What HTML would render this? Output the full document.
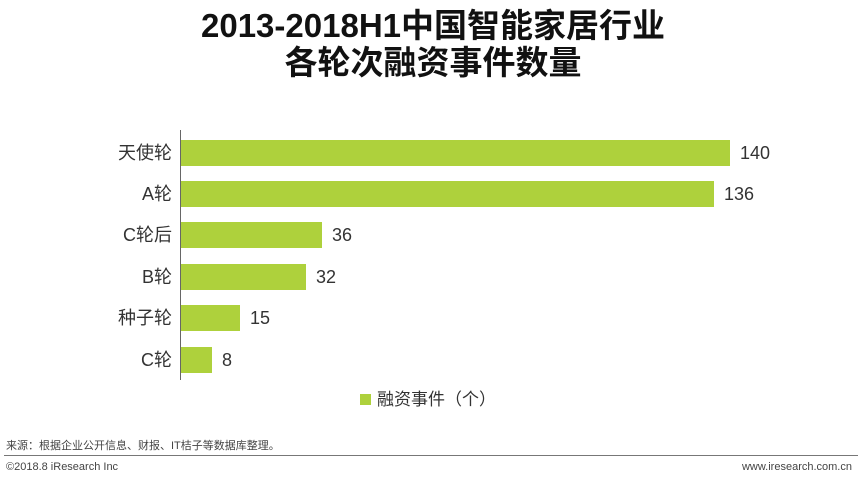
<!DOCTYPE html>
<html><head><meta charset="utf-8"><style>
body{margin:0;width:862px;height:479px;background:#fff;position:relative;overflow:hidden;font-family:"Liberation Sans","Noto Sans CJK SC",sans-serif;}
.t{position:absolute;left:0;width:866px;text-align:center;font-weight:bold;font-size:33px;color:#111;line-height:38px;}
.bar{position:absolute;left:181px;height:26px;background:#aed13c;}
.lab{position:absolute;right:690px;font-size:18px;color:#333;line-height:26px;text-align:right;white-space:nowrap;}
.val{position:absolute;font-size:18px;color:#333;line-height:26px;}
.s{position:absolute;font-size:11px;color:#444;}
</style></head><body>
<div class="t" style="top:7px">2013-2018H1中国智能家居行业</div>
<div class="t" style="top:44px">各轮次融资事件数量</div>
<div style="position:absolute;left:180px;top:130px;width:1px;height:250px;background:#666"></div>

<div class="lab" style="top:140px">天使轮</div><div class="bar" style="top:140px;width:549px"></div><div class="val" style="left:740px;top:140px">140</div>
<div class="lab" style="top:181px">A轮</div><div class="bar" style="top:181px;width:533px"></div><div class="val" style="left:724px;top:181px">136</div>
<div class="lab" style="top:222px">C轮后</div><div class="bar" style="top:222px;width:141px"></div><div class="val" style="left:332px;top:222px">36</div>
<div class="lab" style="top:264px">B轮</div><div class="bar" style="top:264px;width:125px"></div><div class="val" style="left:316px;top:264px">32</div>
<div class="lab" style="top:305px">种子轮</div><div class="bar" style="top:305px;width:59px"></div><div class="val" style="left:250px;top:305px">15</div>
<div class="lab" style="top:347px">C轮</div><div class="bar" style="top:347px;width:31px"></div><div class="val" style="left:222px;top:347px">8</div>

<div style="position:absolute;left:360px;top:394px;width:11px;height:11px;background:#aed13c"></div>
<div style="position:absolute;left:377px;top:388px;font-size:17px;color:#333;line-height:24px">融资事件（个）</div>

<div class="s" style="left:6px;top:437px">来源：根据企业公开信息、财报、IT桔子等数据库整理。</div>
<div style="position:absolute;left:4px;top:455px;width:854px;height:1px;background:#777"></div>
<div class="s" style="left:6px;top:461px">©2018.8 iResearch Inc</div>
<div class="s" style="right:10px;top:461px">www.iresearch.com.cn</div>
</body></html>
